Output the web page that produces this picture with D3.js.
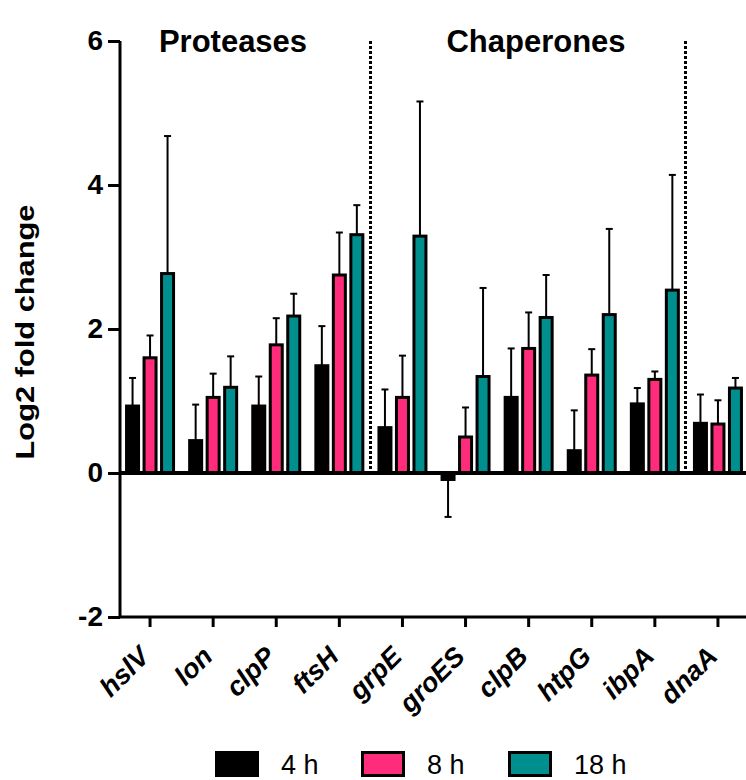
<!DOCTYPE html>
<html>
<head>
<meta charset="utf-8">
<script src="https://cdn.jsdelivr.net/npm/d3@7"></script>
<style>
  html, body { margin: 0; padding: 0; background: #fff; }
  svg { display: block; font-family: "Liberation Sans", Arial, Helvetica, sans-serif; }
</style>
</head>
<body>
<svg id="chart" width="746" height="780"></svg>
<script>
const genes = ["hslV", "lon", "clpP", "ftsH", "grpE", "groES", "clpB", "htpG", "ibpA", "dnaA"];
const seriesNames = ["4 h", "8 h", "18 h"];
const seriesColors = ["#000000", "#FF2C7B", "#008F8F"];
const mean4h  = [0.93, 0.45, 0.93, 1.49, 0.63, -0.09, 1.05, 0.31, 0.96, 0.69];
const mean8h  = [1.60, 1.05, 1.78, 2.75, 1.05, 0.50, 1.73, 1.36, 1.30, 0.68];
const mean18h = [2.77, 1.19, 2.18, 3.31, 3.29, 1.34, 2.16, 2.20, 2.54, 1.18];
const sd4h  = [0.39, 0.50, 0.41, 0.55, 0.53, 0.52, 0.68, 0.56, 0.22, 0.40];
const sd8h  = [0.31, 0.33, 0.37, 0.59, 0.58, 0.41, 0.50, 0.36, 0.11, 0.33];
const sd18h = [1.91, 0.43, 0.31, 0.41, 1.87, 1.23, 0.59, 1.19, 1.60, 0.14];
const yTicks = [-2, 0, 2, 4, 6];
const groupLabels = ["Proteases", "Chaperones"];
const yLabel = "Log2 fold change";

const means = [mean4h, mean8h, mean18h];
const sds = [sd4h, sd8h, sd18h];

const svg = d3.select("#chart");

const x = d3.scaleBand().domain(genes).range([118.5, 749.5]).padding(0);
const xs = d3.scalePoint().domain(seriesNames).range([-17.5, 17.5]);
const y = d3.scaleLinear().domain([-2, 6]).range([617, 41]);
const barW = 12;

const cx = g => x(g) + x.bandwidth() / 2;

const data = [];
genes.forEach((g, i) => {
  seriesNames.forEach((s, j) => {
    data.push({ gene: g, series: s, color: seriesColors[j], v: means[j][i], sd: sds[j][i] });
  });
});

// separators (dotted)
[genes[4], genes[9]].forEach(g => {
  const xp = Math.round(x(g)) - 0.5;
  svg.append("line")
    .attr("x1", xp).attr("x2", xp)
    .attr("y1", y(6)).attr("y2", y(0))
    .attr("stroke", "#000").attr("stroke-width", 3)
    .attr("stroke-dasharray", "3,2");
});

// error bars
const eb = svg.append("g");
data.forEach(d => {
  const xc = cx(d.gene) + xs(d.series);
  const end = d.v >= 0 ? d.v + d.sd : d.v - d.sd;
  eb.append("line")
    .attr("x1", xc).attr("x2", xc)
    .attr("y1", y(d.v)).attr("y2", y(end))
    .attr("stroke", "#000").attr("stroke-width", 2);
  eb.append("line")
    .attr("x1", xc - 3.5).attr("x2", xc + 3.5)
    .attr("y1", y(end)).attr("y2", y(end))
    .attr("stroke", "#000").attr("stroke-width", 2);
});

// bars
svg.append("g").selectAll("rect").data(data).join("rect")
  .attr("x", d => cx(d.gene) + xs(d.series) - barW / 2)
  .attr("width", barW)
  .attr("y", d => Math.min(y(d.v), y(0)))
  .attr("height", d => Math.abs(y(d.v) - y(0)))
  .attr("fill", d => d.color)
  .attr("stroke", "#000")
  .attr("stroke-width", 3);

// zero line
svg.append("line")
  .attr("x1", 120).attr("x2", 746)
  .attr("y1", y(0)).attr("y2", y(0))
  .attr("stroke", "#000").attr("stroke-width", 4);

// y axis
const yAxis = svg.append("g")
  .attr("transform", "translate(120,0)")
  .call(d3.axisLeft(y).tickValues(yTicks).tickSize(12).tickPadding(5)
    .tickFormat(d => String(d)));
yAxis.select(".domain").attr("stroke-width", 3).attr("d", `M0,${y(-2)}V${y(6)}`);
yAxis.selectAll(".tick line").attr("stroke-width", 3);
yAxis.selectAll(".tick text")
  .attr("font-size", 28).attr("font-weight", "bold")
  .attr("font-family", "Liberation Sans, Arial, sans-serif")
  .attr("fill", "#000");

// x axis at bottom
const xAxis = svg.append("g")
  .attr("transform", `translate(0,${y(-2)})`)
  .call(d3.axisBottom(x).tickSize(10).tickPadding(4));
xAxis.select(".domain").attr("stroke-width", 3).attr("d", `M120,0H746`);
xAxis.selectAll(".tick line").attr("stroke-width", 3);
xAxis.selectAll(".tick text")
  .attr("font-size", 27).attr("font-weight", "bold").attr("font-style", "italic")
  .attr("font-family", "Liberation Sans, Arial, sans-serif")
  .attr("fill", "#000")
  .attr("text-anchor", "end")
  .attr("dy", null)
  .attr("transform", "translate(1,41) rotate(-45)")
  .attr("y", 0).attr("x", 0);

// group titles
svg.append("text").attr("x", 233).attr("y", 52)
  .attr("text-anchor", "middle").attr("font-size", 31).attr("font-weight", "bold")
  .text(groupLabels[0]);
svg.append("text").attr("x", 536).attr("y", 52)
  .attr("text-anchor", "middle").attr("font-size", 31).attr("font-weight", "bold")
  .text(groupLabels[1]);

// y label
svg.append("text")
  .attr("transform", "translate(34,332) rotate(-90)")
  .attr("text-anchor", "middle").attr("font-size", 26).attr("font-weight", "bold")
  .attr("textLength", 255).attr("lengthAdjust", "spacingAndGlyphs")
  .text(yLabel);

// legend
const legX = [215, 361, 508];
const leg = svg.append("g");
seriesNames.forEach((s, j) => {
  leg.append("rect")
    .attr("x", legX[j] + 1.5).attr("y", 752.5)
    .attr("width", 41).attr("height", 23)
    .attr("fill", seriesColors[j]).attr("stroke", "#000").attr("stroke-width", 3);
  leg.append("text")
    .attr("x", legX[j] + 66).attr("y", 774)
    .attr("font-size", 27).attr("fill", "#000")
    .text(s);
});
</script>
</body>
</html>
